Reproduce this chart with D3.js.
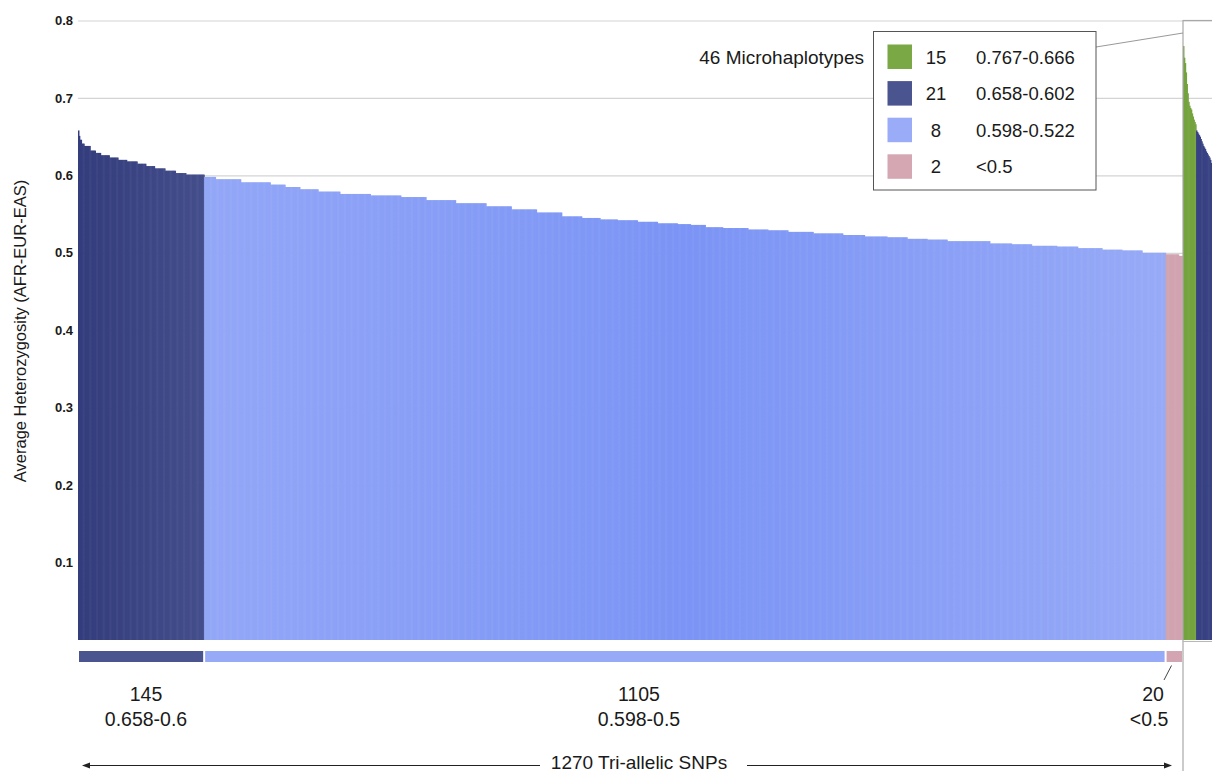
<!DOCTYPE html>
<html>
<head>
<meta charset="utf-8">
<script src="https://cdn.jsdelivr.net/npm/d3@7"></script>
<style>
body { margin: 0; background: #fff; }
text { font-family: "Helvetica Neue", Helvetica, Arial, "Liberation Sans", sans-serif; fill: #1a1a1a; }
</style>
</head>
<body>
<div id="chart"></div>
<script>
// values, sorted high -> low
// SNP bars are stored as runs: [heterozygosity, number of bars]
var snpNavyRuns = [[0.658, 1], [0.651, 1], [0.646, 2], [0.641, 3], [0.638, 7], [0.632, 6], [0.629, 6],
    [0.626, 10], [0.623, 10], [0.620, 10], [0.618, 12], [0.615, 10], [0.612, 10], [0.609, 12],
    [0.606, 12], [0.603, 12], [0.601, 21]];
var snpBlueRuns = [[0.598, 13], [0.595, 29], [0.591, 34], [0.588, 17], [0.585, 17], [0.582, 21],
    [0.579, 25], [0.576, 35], [0.574, 35], [0.572, 29], [0.568, 34], [0.564, 35], [0.560, 29],
    [0.556, 29], [0.552, 29], [0.547, 23], [0.545, 21], [0.543, 20], [0.542, 23], [0.540, 23],
    [0.538, 23], [0.537, 15], [0.536, 17], [0.533, 20], [0.532, 29], [0.530, 23], [0.529, 23],
    [0.527, 29], [0.525, 34], [0.523, 25], [0.521, 26], [0.520, 23], [0.518, 23], [0.517, 23],
    [0.515, 49], [0.512, 25], [0.511, 23], [0.509, 29], [0.508, 24], [0.506, 28], [0.504, 23],
    [0.503, 23], [0.500, 27]];
var snpPinkRuns = [[0.498, 15], [0.496, 5]];

// microhaplotypes, one value per bar
var mhGreen = [0.767, 0.752, 0.745, 0.733, 0.718, 0.706, 0.695, 0.690, 0.687, 0.685, 0.680, 0.676, 0.672, 0.669, 0.666];
var mhNavy = [0.658, 0.656, 0.654, 0.652, 0.650, 0.647, 0.644, 0.641, 0.638, 0.636, 0.634, 0.631, 0.629,
    0.627, 0.625, 0.623, 0.620, 0.616, 0.612, 0.607, 0.602];
var mhBlue = [0.598, 0.585, 0.571, 0.560, 0.548, 0.540, 0.531, 0.522];
var mhPink = [0.490, 0.470];

var snpCounts = [145, 1105, 20];
var snpRanges = ["0.658-0.6", "0.598-0.5", "<0.5"];
var mhCounts = [15, 21, 8, 2];
var mhRanges = ["0.767-0.666", "0.658-0.602", "0.598-0.522", "<0.5"];
var yTicks = [0.1, 0.2, 0.3, 0.4, 0.5, 0.6, 0.7, 0.8];

var W = 1212, H = 771;
var left = 78, split = 1183, base = 640, top0 = 20.5;

var svg = d3.select("#chart").append("svg")
    .attr("width", W)
    .attr("height", H);

var defs = svg.append("defs");
var gNavy = defs.append("linearGradient").attr("id", "navyGrad")
    .attr("gradientUnits", "userSpaceOnUse").attr("x1", 78).attr("x2", 204).attr("y1", 0).attr("y2", 0);
gNavy.append("stop").attr("offset", 0).attr("stop-color", "#333c7c");
gNavy.append("stop").attr("offset", 1).attr("stop-color", "#444e8b");
var gBlue = defs.append("linearGradient").attr("id", "blueGrad")
    .attr("gradientUnits", "userSpaceOnUse").attr("x1", 204).attr("x2", 1165).attr("y1", 0).attr("y2", 0);
gBlue.append("stop").attr("offset", 0).attr("stop-color", "#93a7f7");
gBlue.append("stop").attr("offset", 0.5).attr("stop-color", "#7b94f5");
gBlue.append("stop").attr("offset", 1).attr("stop-color", "#97aaf7");

function expand(runs, grp) {
    var out = [];
    runs.forEach(function (r) {
        for (var i = 0; i < r[1]; i++) out.push({v: r[0], g: grp});
    });
    return out;
}

var snp = expand(snpNavyRuns, 0).concat(expand(snpBlueRuns, 1), expand(snpPinkRuns, 2));
snp.forEach(function (d, i) { d.i = i; });

var mh = [];
[mhGreen, mhNavy, mhBlue, mhPink].forEach(function (arr, g) {
    arr.forEach(function (v) { mh.push({v: v, g: g}); });
});
mh.forEach(function (d, i) { d.i = i; });

var x = d3.scaleBand().domain(d3.range(snp.length)).range([left, split]).padding(0);
var bw = x.bandwidth();
var xm = d3.scaleBand().domain(d3.range(mh.length)).range([split, split + bw * mh.length]).padding(0);
var y = d3.scaleLinear().domain([0, 0.8]).range([base, top0]);

// grid + tick labels
var yAxis = svg.append("g")
    .attr("transform", "translate(" + left + ",0)")
    .call(d3.axisLeft(y).tickValues(yTicks).tickFormat(d3.format(".1f"))
        .tickSize(-(W - left)).tickPadding(5));
yAxis.select(".domain").remove();
yAxis.selectAll(".tick line").attr("stroke", "#d4d4d4").attr("stroke-width", 1.2);
yAxis.selectAll(".tick text")
    .style("font-size", "13px")
    .style("font-weight", "bold")
    .attr("fill", "#2a2a2a");

svg.append("text")
    .attr("transform", "translate(26,331) rotate(-90)")
    .attr("text-anchor", "middle")
    .style("font-size", "16.5px")
    .text("Average Heterozygosity (AFR-EUR-EAS)");

// SNP bars (slight overlap so the thin bars do not wash out)
var snpFill = ["url(#navyGrad)", "url(#blueGrad)", "#d1a3b0"];
svg.append("g").selectAll("rect")
    .data(snp)
    .join("rect")
    .attr("x", function (d) { return x(d.i); })
    .attr("width", function (d) { return d.i == snp.length - 1 ? bw : bw + 0.6; })
    .attr("y", function (d) { return y(d.v); })
    .attr("height", function (d) { return base - y(d.v); })
    .attr("fill", function (d) { return snpFill[d.g]; });

// microhaplotype bars
var mhFill = ["#74a33e", "#384283", "#8fa4f6", "#d1a3b0"];
svg.append("g").selectAll("rect")
    .data(mh)
    .join("rect")
    .attr("x", function (d) { return xm(d.i); })
    .attr("width", xm.bandwidth() + 0.6)
    .attr("y", function (d) { return y(d.v); })
    .attr("height", function (d) { return base - y(d.v); })
    .attr("fill", function (d) { return mhFill[d.g]; });

// panel frame for microhaplotypes
svg.append("line").attr("x1", split).attr("x2", split).attr("y1", 20).attr("y2", H)
    .attr("stroke", "#a8a8a8").attr("stroke-width", 1.2);
svg.append("line").attr("x1", split).attr("x2", W).attr("y1", 20.5).attr("y2", 20.5)
    .attr("stroke", "#a8a8a8").attr("stroke-width", 1.2);
svg.append("line").attr("x1", split).attr("x2", W).attr("y1", base + 1.5).attr("y2", base + 1.5)
    .attr("stroke", "#b8b8b8").attr("stroke-width", 1);

// group strip under the SNP bars
var stripFill = ["#4a5590", "#97aaf7", "#d3a5b2"];
var starts = [0, snpCounts[0], snpCounts[0] + snpCounts[1]];
svg.append("g").selectAll("rect")
    .data(snpCounts)
    .join("rect")
    .attr("x", function (d, i) { return x(starts[i]) + 1; })
    .attr("width", function (d, i) { return d * bw - 2; })
    .attr("y", 651)
    .attr("height", 11)
    .attr("fill", function (d, i) { return stripFill[i]; });

var labelX = [146, 639, 1153];
var lab = svg.append("g").style("font-size", "19.5px");
snpCounts.forEach(function (c, i) {
    lab.append("text").attr("x", labelX[i]).attr("y", 700.5).attr("text-anchor", "middle").text(c);
    lab.append("text").attr("x", labelX[i] - (i == 2 ? 4 : 0)).attr("y", 726).attr("text-anchor", "middle").text(snpRanges[i]);
});
svg.append("line").attr("x1", 1171.5).attr("x2", 1164).attr("y1", 665.5).attr("y2", 680)
    .attr("stroke", "#444").attr("stroke-width", 1);

// 1270 arrow
var total = d3.sum(snpCounts);
svg.append("text").attr("x", 639).attr("y", 769).attr("text-anchor", "middle")
    .style("font-size", "19px").text(total + " Tri-allelic SNPs");
svg.append("line").attr("x1", 86).attr("x2", 540).attr("y1", 765.5).attr("y2", 765.5)
    .attr("stroke", "#222").attr("stroke-width", 1.2);
svg.append("line").attr("x1", 747).attr("x2", 1167).attr("y1", 765.5).attr("y2", 765.5)
    .attr("stroke", "#222").attr("stroke-width", 1.2);
svg.append("path").attr("d", "M82,765.5 L90,762.5 L90,768.5 Z").attr("fill", "#222");
svg.append("path").attr("d", "M1172,765.5 L1164,762.5 L1164,768.5 Z").attr("fill", "#222");

// legend for microhaplotypes
svg.append("line").attr("x1", 1096).attr("x2", split).attr("y1", 47).attr("y2", 33)
    .attr("stroke", "#999").attr("stroke-width", 1);
svg.append("text").attr("x", 864).attr("y", 63.5).attr("text-anchor", "end")
    .style("font-size", "19px").text(d3.sum(mhCounts) + " Microhaplotypes");

var leg = svg.append("g");
leg.append("rect").attr("x", 873.5).attr("y", 31.5).attr("width", 222.5).attr("height", 158.5)
    .attr("fill", "#fff").attr("stroke", "#555").attr("stroke-width", 1);
var legFill = ["#7aa845", "#4a548f", "#9aacf8", "#d4a7b3"];
mhCounts.forEach(function (c, i) {
    var yy = 44.5 + i * 36.6;
    leg.append("rect").attr("x", 887.5).attr("y", yy).attr("width", 24.5).attr("height", 24.5)
        .attr("fill", legFill[i]);
    leg.append("text").attr("x", 936).attr("y", yy + 19).attr("text-anchor", "middle")
        .style("font-size", "18.5px").text(c);
    leg.append("text").attr("x", 976).attr("y", yy + 19)
        .style("font-size", "18.5px").text(mhRanges[i]);
});
</script>
</body>
</html>
